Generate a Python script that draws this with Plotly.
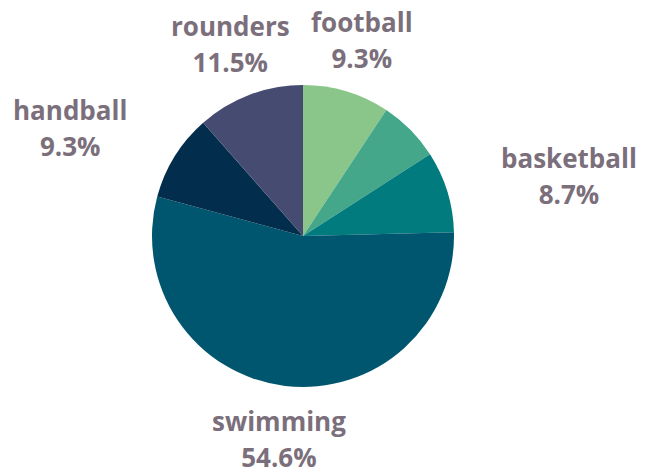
import math
import plotly.graph_objects as go

# Share of pupils by favourite sport
sports = ["football", "other", "basketball", "swimming", "handball", "rounders"]
shares = [9.3, 6.6, 8.7, 54.6, 9.3, 11.5]
colors = ["#8AC68A", "#45A78A", "#017B7E", "#00566E", "#022D4C", "#464C71"]
show_label = [True, False, True, True, True, True]

W, H = 653, 472
margin = dict(l=101, r=148, t=85, b=85)
plot_w = W - margin["l"] - margin["r"]
plot_h = H - margin["t"] - margin["b"]
radius = min(plot_w, plot_h) / 2
label_dist = radius * 1.357  # anchor distance of the labels from the centre
text_color = "#7B6F7C"
text_size = 26
line_gap = 36  # baseline-to-baseline distance of the two label lines

fig = go.Figure(go.Pie(
    labels=sports,
    values=shares,
    sort=False,
    direction="clockwise",
    rotation=0,
    marker=dict(colors=colors, line=dict(width=0)),
    textinfo="none",
    showlegend=False,
    hoverinfo="label+percent",
))

# labels: placed along each slice's mid-angle, clockwise from 12 o'clock
total = sum(shares)
cum = 0.0
annotations = []
span = f"<span style='font-size:{text_size}px'><b>{{}}</b></span>"
for name, val, show in zip(sports, shares, show_label):
    mid = (cum + val / 2) / total * 2 * math.pi
    cum += val
    if not show:
        continue
    s, c = math.sin(mid), math.cos(mid)
    px = 0.5 + label_dist * s / plot_w
    py = 0.5 + label_dist * c / plot_h
    if s > 0.7:
        xa = "left"
    elif s < -0.7:
        xa = "right"
    else:
        xa = "center"
    pct = f"{val / total * 100:.1f}%"
    annotations.append(dict(
        x=px, y=py, xref="paper", yref="paper",
        text=span.format(name) + "<br>" + span.format(pct),
        showarrow=False,
        xanchor=xa, yanchor="middle", align="center",
        font=dict(family="Open Sans", size=line_gap / 1.3, color=text_color),
    ))

fig.update_layout(
    width=W,
    height=H,
    margin=margin,
    paper_bgcolor="white",
    plot_bgcolor="white",
    annotations=annotations,
)

fig.write_html("out.html")
